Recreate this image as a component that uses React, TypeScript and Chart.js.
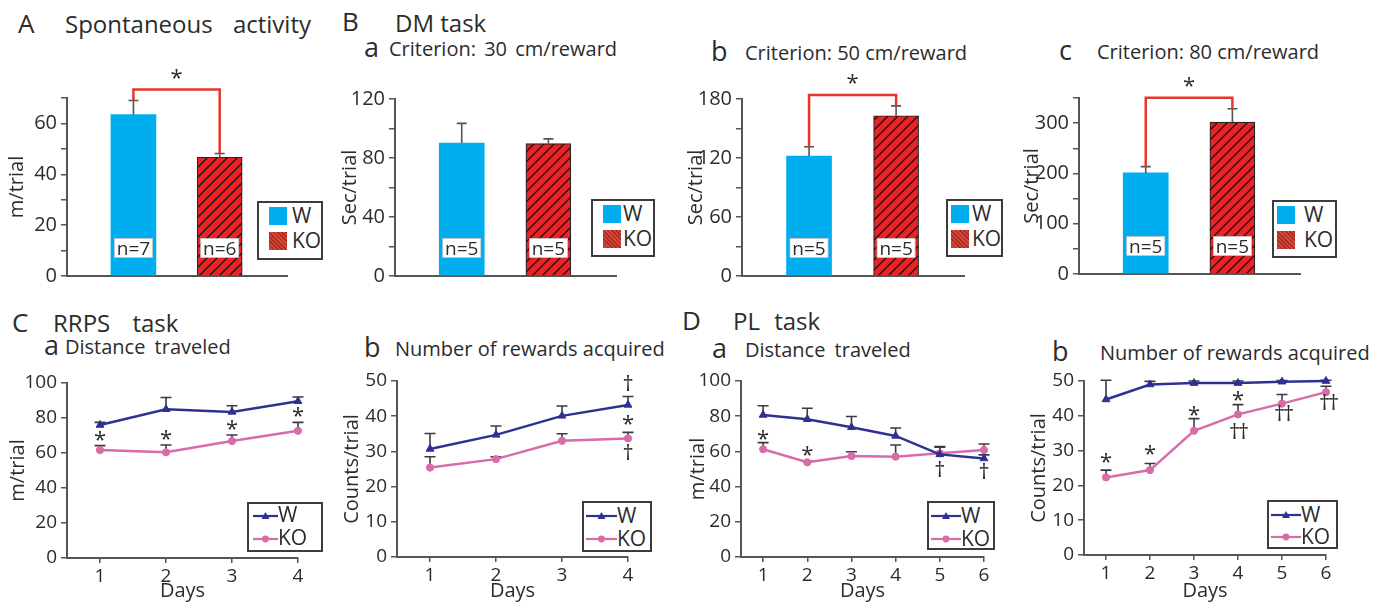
import React, { useEffect, useRef } from 'react';
import { Chart, registerables } from 'chart.js';

Chart.register(...registerables);

const FONT = "'Open Sans', 'DejaVu Sans', sans-serif";
const TEXT = '#2c2c2c';
const AXIS = '#555555';
const CYAN = '#00AEEF';
const RED = '#EC2227';
const BRACKET = '#E5362A';
const BLUE = '#2E3192';
const PINK = '#D86BAA';
const ERRC = '#3a3a44';

// ---------------- data ----------------
const groups = ['W', 'KO'];

const spontMean = [63.5, 46.7];
const spontErr = [5.5, 1.5];
const spontN = ['n=7', 'n=6'];

const dm30Mean = [90.2, 89.8];
const dm30Err = [13.3, 3.2];
const dm50Mean = [122, 163];
const dm50Err = [9.5, 10];
const dm80Mean = [201, 302];
const dm80Err = [12.6, 26.6];
const dmN = ['n=5', 'n=5'];

const rrpsDays = [1, 2, 3, 4];
const rrpsDistW = [76, 85, 83.5, 89.6];
const rrpsDistWErr = [1.5, 6.7, 3.5, 2.4];
const rrpsDistKO = [61.7, 60.4, 66.8, 72.7];
const rrpsDistKOErr = [2.5, 4.2, 3.5, 4.8];
const rrpsRewW = [30.7, 34.7, 40.1, 43.2];
const rrpsRewWErr = [4.4, 2.5, 2.8, 2.4];
const rrpsRewKO = [25.4, 27.8, 33.0, 33.7];
const rrpsRewKOErr = [3.1, 0.7, 2.0, 1.7];

const plDays = [1, 2, 3, 4, 5, 6];
const plDistW = [80.7, 78.3, 73.7, 68.8, 58.3, 56.0];
const plDistWErr = [5.2, 6.2, 6.1, 4.5, 4.5, 2.0];
const plDistKO = [61.2, 53.8, 57.4, 57.0, 58.9, 60.8];
const plDistKOErr = [3.8, 0.7, 2.4, 6.6, 3.5, 3.4];
const plRewW = [44.7, 49.0, 49.4, 49.4, 49.8, 50.0];
const plRewWErr = [5.5, 0.9, 0.6, 0.6, 0.3, 0.2];
const plRewKO = [22.3, 24.4, 35.7, 40.4, 43.5, 46.8];
const plRewKOErr = [2.1, 1.9, 3.5, 2.8, 2.6, 1.7];

type Mark = { day: number; text: string; at: 'w' | 'ko' | 'wErr' | 'koErr'; dy: number; dx?: number };

const rrpsDistMarks: Mark[] = [
  { day: 1, text: '*', at: 'koErr', dy: -10 },
  { day: 2, text: '*', at: 'koErr', dy: -10 },
  { day: 3, text: '*', at: 'koErr', dy: -10 },
  { day: 4, text: '*', at: 'koErr', dy: -10 },
];
const rrpsRewMarks: Mark[] = [
  { day: 4, text: '†', at: 'wErr', dy: -13 },
  { day: 4, text: '*', at: 'koErr', dy: -12 },
  { day: 4, text: '†', at: 'ko', dy: 14 },
];
const plDistMarks: Mark[] = [
  { day: 1, text: '*', at: 'koErr', dy: -8 },
  { day: 2, text: '*', at: 'koErr', dy: -10 },
  { day: 5, text: '†', at: 'w', dy: 15 },
  { day: 6, text: '†', at: 'w', dy: 13 },
];
const plRewMarks: Mark[] = [
  { day: 1, text: '*', at: 'koErr', dy: -12 },
  { day: 2, text: '*', at: 'koErr', dy: -13 },
  { day: 3, text: '*', at: 'koErr', dy: -8 },
  { day: 4, text: '*', at: 'koErr', dy: -9 },
  { day: 4, text: '††', at: 'ko', dy: 17, dx: 1 },
  { day: 5, text: '††', at: 'ko', dy: 9, dx: 2 },
  { day: 6, text: '††', at: 'ko', dy: 10, dx: 3 },
];

// ---------------- panel configs ----------------
type PanelCfg = {
  id: string;
  canvas: [number, number, number, number];
  area: [number, number, number, number];
  kind: 'bar' | 'line';
  yMax: number;
  yStep: number;
  yEvery: number;
  yTitle: string;
  tickSize: number;
  mean?: number[];
  err?: number[];
  n?: string[];
  bracket?: boolean;
  days?: number[];
  w?: number[];
  wErr?: number[];
  ko?: number[];
  koErr?: number[];
  marks?: Mark[];
};

const panels: PanelCfg[] = [
  { id: 'A', canvas: [5, 60, 312, 240], area: [67, 98, 287, 276], kind: 'bar', yMax: 70, yStep: 10, yEvery: 20, yTitle: 'm/trial', tickSize: 20, mean: spontMean, err: spontErr, n: spontN, bracket: true },
  { id: 'Ba', canvas: [338, 60, 308, 240], area: [395, 99, 616, 276], kind: 'bar', yMax: 120, yStep: 20, yEvery: 40, yTitle: 'Sec/trial', tickSize: 20, mean: dm30Mean, err: dm30Err, n: dmN, bracket: false },
  { id: 'Bb', canvas: [684, 60, 310, 240], area: [742, 99, 964, 276], kind: 'bar', yMax: 180, yStep: 30, yEvery: 60, yTitle: 'Sec/trial', tickSize: 20, mean: dm50Mean, err: dm50Err, n: dmN, bracket: true },
  { id: 'Bc', canvas: [1020, 60, 310, 240], area: [1079, 98, 1300, 274], kind: 'bar', yMax: 350, yStep: 50, yEvery: 100, yTitle: 'Sec/trial', tickSize: 20, mean: dm80Mean, err: dm80Err, n: dmN, bracket: true },
  { id: 'Ca', canvas: [6, 360, 322, 244], area: [67, 383, 298, 558], kind: 'line', yMax: 100, yStep: 20, yEvery: 20, yTitle: 'm/trial', tickSize: 19, days: rrpsDays, w: rrpsDistW, wErr: rrpsDistWErr, ko: rrpsDistKO, koErr: rrpsDistKOErr, marks: rrpsDistMarks },
  { id: 'Cb', canvas: [340, 360, 318, 244], area: [397, 381, 628, 557], kind: 'line', yMax: 50, yStep: 10, yEvery: 10, yTitle: 'Counts/trial', tickSize: 19, days: rrpsDays, w: rrpsRewW, wErr: rrpsRewWErr, ko: rrpsRewKO, koErr: rrpsRewKOErr, marks: rrpsRewMarks },
  { id: 'Da', canvas: [686, 360, 328, 244], area: [741, 381, 984, 557], kind: 'line', yMax: 100, yStep: 20, yEvery: 20, yTitle: 'm/trial', tickSize: 19, days: plDays, w: plDistW, wErr: plDistWErr, ko: plDistKO, koErr: plDistKOErr, marks: plDistMarks },
  { id: 'Db', canvas: [1027, 360, 329, 244], area: [1084, 381, 1326, 555], kind: 'line', yMax: 50, yStep: 10, yEvery: 10, yTitle: 'Counts/trial', tickSize: 19, days: plDays, w: plRewW, wErr: plRewWErr, ko: plRewKO, koErr: plRewKOErr, marks: plRewMarks },
];

// ---------------- drawing helpers ----------------
function drawCentered(ctx: CanvasRenderingContext2D, text: string, x: number, y: number, size: number, color: string) {
  ctx.save();
  ctx.font = `${size}px ${FONT}`;
  ctx.fillStyle = color;
  ctx.textAlign = 'center';
  ctx.textBaseline = 'alphabetic';
  const m = ctx.measureText(text);
  const asc = m.actualBoundingBoxAscent || size * 0.7;
  const desc = m.actualBoundingBoxDescent || 0;
  ctx.fillText(text, x, y + (asc - desc) / 2);
  ctx.restore();
}

function drawMarkText(ctx: CanvasRenderingContext2D, text: string, x: number, y: number) {
  if (text === '*') {
    drawCentered(ctx, '*', x, y, 22, TEXT);
  } else if (text === '††') {
    drawCentered(ctx, '†', x - 4.5, y, 22, TEXT);
    drawCentered(ctx, '†', x + 4.5, y, 22, TEXT);
  } else {
    drawCentered(ctx, text, x, y, 22, TEXT);
  }
}

function makeHatch(): CanvasPattern | string {
  const c = document.createElement('canvas');
  c.width = 10;
  c.height = 10;
  const g = c.getContext('2d');
  if (!g) return RED;
  g.fillStyle = RED;
  g.fillRect(0, 0, 10, 10);
  g.strokeStyle = '#141414';
  g.lineWidth = 1.3;
  g.beginPath();
  g.moveTo(-1, 11);
  g.lineTo(11, -1);
  g.moveTo(-1, 1);
  g.lineTo(1, -1);
  g.moveTo(9, 11);
  g.lineTo(11, 9);
  g.stroke();
  return g.createPattern(c, 'repeat') || RED;
}

function drawErrors(chart: any, color: string, half: number, width: number) {
  const ctx: CanvasRenderingContext2D = chart.ctx;
  const ys = chart.scales.y;
  chart.data.datasets.forEach((ds: any, i: number) => {
    const errs: number[] | undefined = ds.errors;
    if (!errs) return;
    const meta = chart.getDatasetMeta(i);
    meta.data.forEach((el: any, j: number) => {
      const v = ds.data[j].y;
      const top = ys.getPixelForValue(v + errs[j]);
      ctx.save();
      ctx.strokeStyle = color;
      ctx.lineWidth = width;
      ctx.beginPath();
      ctx.moveTo(el.x, el.y);
      ctx.lineTo(el.x, top);
      ctx.moveTo(el.x - half, top);
      ctx.lineTo(el.x + half, top);
      ctx.stroke();
      ctx.restore();
    });
  });
}

function buildConfig(p: PanelCfg, hatch: CanvasPattern | string): any {
  const [cx, cy, cw, ch] = p.canvas;
  const [L, T, R, B] = p.area;
  const yWidth = L - cx;
  const xHeight = cy + ch - B;
  const padTop = T - cy;
  const padRight = cx + cw - R;
  const titleFont = { family: FONT, size: 20, lineHeight: 1.2 };
  const tickFont = { family: FONT, size: p.tickSize };

  const yScale = {
    type: 'linear',
    min: 0,
    max: p.yMax,
    afterFit: (s: any) => {
      s.width = yWidth;
    },
    ticks: {
      stepSize: p.yStep,
      autoSkip: false,
      padding: 4,
      color: TEXT,
      font: tickFont,
      callback: (v: any) => (Math.round(Number(v)) % p.yEvery === 0 ? String(Math.round(Number(v))) : ''),
    },
    grid: { drawOnChartArea: false, drawTicks: true, tickLength: 6, tickWidth: 1.5, color: AXIS, lineWidth: 1.5 },
    border: { display: true, color: AXIS, width: 2 },
    title: { display: true, text: p.yTitle, color: TEXT, font: titleFont, padding: 0 },
  };

  let xScale: any;
  let datasets: any[];
  if (p.kind === 'bar') {
    xScale = {
      type: 'linear',
      min: 0.23,
      max: 2.78,
      offset: false,
      afterFit: (s: any) => {
        s.height = xHeight;
      },
      ticks: { display: false },
      grid: { display: false },
      border: { display: true, color: AXIS, width: 2 },
    };
    datasets = [
      {
        label: groups.join('/'),
        data: (p.mean || []).map((m, i) => ({ x: i + 1, y: m })),
        backgroundColor: [CYAN, hatch],
        borderColor: [CYAN, '#262626'],
        borderWidth: [0, 1.2],
        borderSkipped: 'bottom',
        barThickness: 45,
        grouped: false,
        errors: p.err,
      },
    ];
  } else {
    const days = p.days || [];
    xScale = {
      type: 'linear',
      min: 0.5,
      max: days[days.length - 1],
      offset: false,
      afterFit: (s: any) => {
        s.height = xHeight;
      },
      afterBuildTicks: (s: any) => {
        s.ticks = days.map((d) => ({ value: d }));
      },
      ticks: { autoSkip: false, padding: 2, color: TEXT, font: tickFont, maxRotation: 0 },
      grid: { drawOnChartArea: false, drawTicks: true, tickLength: 5, tickWidth: 1.5, color: AXIS, lineWidth: 1.5 },
      border: { display: true, color: AXIS, width: 2 },
      title: { display: true, text: 'Days', color: TEXT, font: titleFont, padding: { top: 0, bottom: 1 } },
    };
    datasets = [
      {
        label: groups[0],
        data: days.map((d, i) => ({ x: d, y: (p.w || [])[i] })),
        borderColor: BLUE,
        backgroundColor: BLUE,
        pointBackgroundColor: BLUE,
        pointBorderColor: BLUE,
        borderWidth: 2.5,
        pointStyle: 'triangle',
        pointRadius: 4.5,
        pointBorderWidth: 1,
        tension: 0,
        clip: false,
        errors: p.wErr,
      },
      {
        label: groups[1],
        data: days.map((d, i) => ({ x: d, y: (p.ko || [])[i] })),
        borderColor: PINK,
        backgroundColor: PINK,
        pointBackgroundColor: PINK,
        pointBorderColor: PINK,
        borderWidth: 2.5,
        pointStyle: 'circle',
        pointRadius: 3.6,
        pointBorderWidth: 1,
        tension: 0,
        clip: false,
        errors: p.koErr,
      },
    ];
  }

  const overlay = {
    id: 'overlay' + p.id,
    beforeDatasetsDraw(chart: any) {
      if (p.kind === 'line') drawErrors(chart, ERRC, 5.5, 1.6);
    },
    afterDatasetsDraw(chart: any) {
      const ctx: CanvasRenderingContext2D = chart.ctx;
      const ys = chart.scales.y;
      const xs = chart.scales.x;
      if (p.kind === 'bar') {
        drawErrors(chart, '#555555', 5, 1.6);
        const meta = chart.getDatasetMeta(0);
        const mean = p.mean || [];
        const err = p.err || [];
        const els = meta.data;
        const zero = ys.getPixelForValue(0);
        (p.n || []).forEach((t, j) => {
          const el = els[j];
          if (!el) return;
          const bw = 38;
          const bh = 19;
          const cyy = zero - 28;
          ctx.save();
          ctx.fillStyle = '#ffffff';
          ctx.fillRect(el.x - bw / 2, cyy - bh / 2, bw, bh);
          ctx.strokeStyle = '#c8c8c8';
          ctx.lineWidth = 0.8;
          ctx.strokeRect(el.x - bw / 2, cyy - bh / 2, bw, bh);
          ctx.restore();
          drawCentered(ctx, t, el.x, cyy, 19, TEXT);
        });
        if (p.bracket && els.length === 2) {
          const ta = ys.getPixelForValue(mean[0] + err[0]);
          const tb = ys.getPixelForValue(mean[1] + err[1]);
          const top = Math.min(ta, tb) - 11;
          ctx.save();
          ctx.strokeStyle = BRACKET;
          ctx.lineWidth = 2.5;
          ctx.beginPath();
          ctx.moveTo(els[0].x, ta);
          ctx.lineTo(els[0].x, top);
          ctx.lineTo(els[1].x, top);
          ctx.lineTo(els[1].x, tb);
          ctx.stroke();
          ctx.restore();
          drawCentered(ctx, '*', (els[0].x + els[1].x) / 2, top - 16, 22, TEXT);
        }
      } else {
        const days = p.days || [];
        (p.marks || []).forEach((m) => {
          const i = days.indexOf(m.day);
          if (i < 0) return;
          const w = (p.w || [])[i];
          const ko = (p.ko || [])[i];
          let v = ko;
          if (m.at === 'w') v = w;
          else if (m.at === 'wErr') v = w + (p.wErr || [])[i];
          else if (m.at === 'koErr') v = ko + (p.koErr || [])[i];
          const xp = xs.getPixelForValue(m.day) + (m.dx || 0);
          const yp = ys.getPixelForValue(v) + m.dy;
          drawMarkText(ctx, m.text, xp, yp);
        });
      }
    },
  };

  return {
    type: p.kind,
    data: { datasets },
    options: {
      responsive: false,
      animation: false,
      devicePixelRatio: 1,
      layout: { autoPadding: false, padding: { left: 0, bottom: 0, top: padTop, right: padRight } },
      plugins: { legend: { display: false }, tooltip: { enabled: false }, title: { display: false } },
      scales: { x: xScale, y: yScale },
      events: [],
    },
    plugins: [overlay],
  };
}

function ChartCanvas({ cfg }: { cfg: PanelCfg }) {
  const ref = useRef<HTMLCanvasElement | null>(null);
  useEffect(() => {
    const canvas = ref.current;
    if (!canvas) return;
    const chart = new Chart(canvas, buildConfig(cfg, makeHatch()));
    let alive = true;
    const fonts: any = (document as any).fonts;
    if (fonts && fonts.ready) {
      fonts.ready.then(() => {
        if (alive) chart.update();
      });
    }
    return () => {
      alive = false;
      chart.destroy();
    };
  }, [cfg]);
  const [x, y, w, h] = cfg.canvas;
  return <canvas ref={ref} width={w} height={h} style={{ position: 'absolute', left: x, top: y, width: w, height: h }} />;
}

// ---------------- text & legends ----------------
type Lbl = { x: number; base: number; size: number; text: string; ws?: number };
const labels: Lbl[] = [
  { x: 18, base: 33, size: 26, text: 'A' },
  { x: 65, base: 33, size: 24, text: 'Spontaneous activity', ws: 14 },
  { x: 342, base: 31, size: 26, text: 'B' },
  { x: 395, base: 32, size: 24, text: 'DM task' },
  { x: 364, base: 57, size: 27, text: 'a' },
  { x: 389, base: 57, size: 20, text: 'Criterion: 30 cm/reward', ws: 3 },
  { x: 711, base: 61, size: 27, text: 'b' },
  { x: 745, base: 61, size: 20, text: 'Criterion: 50 cm/reward' },
  { x: 1059, base: 60, size: 27, text: 'c' },
  { x: 1097, base: 60, size: 20, text: 'Criterion: 80 cm/reward' },
  { x: 12, base: 332, size: 26, text: 'C' },
  { x: 53, base: 332, size: 24, text: 'RRPS task', ws: 16 },
  { x: 44, base: 355, size: 27, text: 'a' },
  { x: 65, base: 355, size: 20, text: 'Distance traveled', ws: 4 },
  { x: 364, base: 357, size: 27, text: 'b' },
  { x: 395, base: 357, size: 20, text: 'Number of rewards acquired' },
  { x: 682, base: 330, size: 26, text: 'D' },
  { x: 733, base: 330, size: 24, text: 'PL task', ws: 8 },
  { x: 712, base: 358, size: 27, text: 'a' },
  { x: 745, base: 358, size: 20, text: 'Distance traveled', ws: 4 },
  { x: 1052, base: 361, size: 27, text: 'b' },
  { x: 1100, base: 361, size: 20, text: 'Number of rewards acquired' },
];

function Label({ l }: { l: Lbl }) {
  return (
    <div
      style={{
        position: 'absolute',
        left: l.x,
        top: l.base - 0.888 * l.size,
        fontSize: l.size,
        lineHeight: 1,
        whiteSpace: 'pre',
        wordSpacing: l.ws || 0,
        color: TEXT,
      }}
    >
      {l.text}
    </div>
  );
}

type LegBox = { l: number; t: number; w: number; h: number; sx: number; tx: number };
const barLegends: LegBox[] = [
  { l: 257, t: 201, w: 66, h: 59, sx: 12, tx: 35 },
  { l: 591, t: 199, w: 64, h: 58, sx: 12, tx: 32 },
  { l: 946, t: 199, w: 57, h: 58, sx: 5, tx: 26 },
  { l: 1272, t: 200, w: 65, h: 58, sx: 5, tx: 32 },
];
type LineLeg = { l: number; t: number; w: number; h: number; ls: number; le: number; tx: number; r1: number; r2: number };
const lineLegends: LineLeg[] = [
  { l: 247, t: 502, w: 76, h: 50, ls: 6, le: 31, tx: 31, r1: 13.5, r2: 36.5 },
  { l: 582, t: 501, w: 70, h: 51, ls: 4, le: 35, tx: 35, r1: 15, r2: 38 },
  { l: 927, t: 501, w: 68, h: 49, ls: 4, le: 34, tx: 34, r1: 15, r2: 38 },
  { l: 1267, t: 500, w: 71, h: 49, ls: 4, le: 34, tx: 34, r1: 15, r2: 37 },
];

const LEG_FS = 21;

function LegText({ x, cy, text }: { x: number; cy: number; text: string }) {
  return (
    <div style={{ position: 'absolute', left: x, top: cy - 0.531 * LEG_FS, fontSize: LEG_FS, lineHeight: 1, color: TEXT }}>
      {text}
    </div>
  );
}

function BarLegend({ g }: { g: LegBox }) {
  const b = 2;
  return (
    <div style={{ position: 'absolute', left: g.l, top: g.t, width: g.w, height: g.h, border: `${b}px solid #3c3c3c`, boxSizing: 'border-box', background: '#fff' }}>
      <div style={{ position: 'absolute', left: g.sx - b, top: 6 - b, width: 18, height: 18, background: CYAN }} />
      <LegText x={g.tx - b} cy={15 - b} text={groups[0]} />
      <div
        style={{
          position: 'absolute',
          left: g.sx - b,
          top: 31 - b,
          width: 18,
          height: 18,
          background: 'repeating-linear-gradient(45deg, #a52a20 0px, #a52a20 1.2px, #d2463a 1.2px, #d2463a 3px)',
        }}
      />
      <LegText x={g.tx - b} cy={40 - b} text={groups[1]} />
    </div>
  );
}

function LineLegend({ g }: { g: LineLeg }) {
  const b = 2;
  const lw = g.le - g.ls;
  const mid = lw / 2;
  return (
    <div style={{ position: 'absolute', left: g.l, top: g.t, width: g.w, height: g.h, border: `${b}px solid #3c3c3c`, boxSizing: 'border-box', background: '#fff' }}>
      <svg style={{ position: 'absolute', left: g.ls - b, top: g.r1 - b - 6 }} width={lw} height={12}>
        <line x1={0} y1={6} x2={lw} y2={6} stroke={BLUE} strokeWidth={2.2} />
        <polygon points={`${mid - 4},9 ${mid + 4},9 ${mid},2`} fill={BLUE} />
      </svg>
      <LegText x={g.tx - b} cy={g.r1 - b} text={groups[0]} />
      <svg style={{ position: 'absolute', left: g.ls - b, top: g.r2 - b - 6 }} width={lw} height={12}>
        <line x1={0} y1={6} x2={lw} y2={6} stroke={PINK} strokeWidth={2.2} />
        <circle cx={mid} cy={6} r={3.4} fill={PINK} />
      </svg>
      <LegText x={g.tx - b} cy={g.r2 - b} text={groups[1]} />
    </div>
  );
}

export default function App() {
  return (
    <div
      style={{
        position: 'fixed',
        left: 0,
        top: 0,
        width: 1379,
        height: 604,
        background: '#ffffff',
        overflow: 'hidden',
        fontFamily: FONT,
        color: TEXT,
      }}
    >
      {labels.map((l, i) => (
        <Label key={'l' + i} l={l} />
      ))}
      {panels.map((p) => (
        <ChartCanvas key={p.id} cfg={p} />
      ))}
      {barLegends.map((g, i) => (
        <BarLegend key={'bl' + i} g={g} />
      ))}
      {lineLegends.map((g, i) => (
        <LineLegend key={'ll' + i} g={g} />
      ))}
    </div>
  );
}
